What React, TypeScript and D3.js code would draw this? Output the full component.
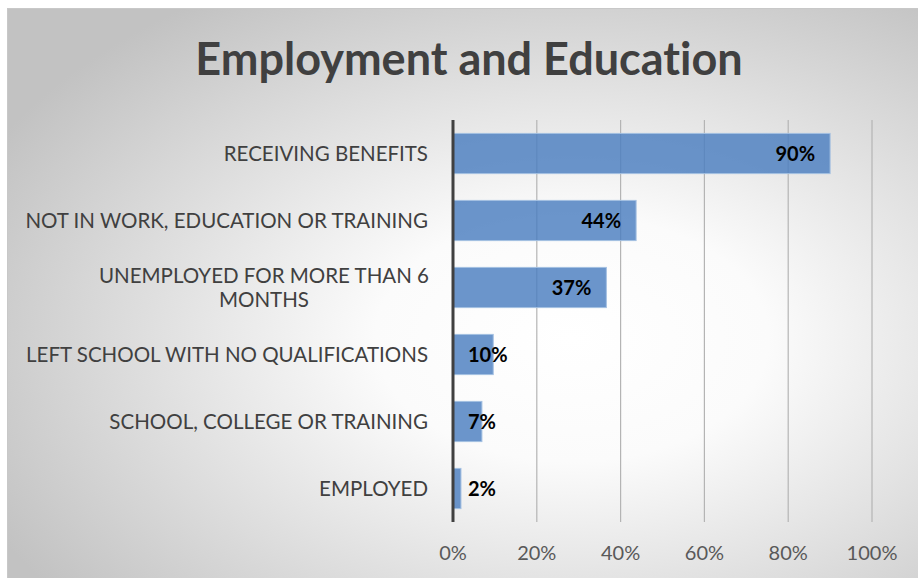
import React from "react";
import * as d3 from "d3";

const categories = [
	"RECEIVING BENEFITS",
	"NOT IN WORK, EDUCATION OR TRAINING",
	"UNEMPLOYED FOR MORE THAN 6\nMONTHS",
	"LEFT SCHOOL WITH NO QUALIFICATIONS",
	"SCHOOL, COLLEGE OR TRAINING",
	"EMPLOYED",
];
const values = [0.9, 0.437, 0.366, 0.096, 0.069, 0.019];
const ticks = [0, 0.2, 0.4, 0.6, 0.8, 1];

const W = 918;
const H = 578;
const FONT = "Lato, 'Open Sans', sans-serif";

export default function App() {
	const x = d3.scaleLinear().domain([0, 1]).range([453, 872]);
	const y = d3
		.scaleBand<string>()
		.domain(categories)
		.range([120, 522])
		.paddingInner(0.4)
		.paddingOuter(0.2);
	const pct = d3.format(".0%");
	const [y0, y1] = y.range();

	return (
		<svg
			width={W}
			height={H}
			style={{
				position: "absolute",
				left: 0,
				top: 0,
				fontVariantLigatures: "none",
			}}
			fontFamily={FONT}
		>
			<defs>
				<radialGradient id="bg" cx="0.62" cy="0.58" r="0.72">
					<stop offset="0" stopColor="#ffffff" />
					<stop offset="0.3" stopColor="#fbfbfb" />
					<stop offset="1" stopColor="#c2c2c2" />
				</radialGradient>
			</defs>
			<rect x={0} y={0} width={W} height={H} fill="#fff" />
			<rect x={7} y={8} width={W - 7} height={H - 8} fill="url(#bg)" />
			<line x1={7} y1={8.5} x2={W} y2={8.5} stroke="#c8c8c8" />
			<line x1={7.5} y1={8} x2={7.5} y2={H} stroke="#c8c8c8" />

			<text
				x={469}
				y={75}
				textAnchor="middle"
				fontSize={45}
				fontWeight="bold"
				fill="#404040"
			>
				Employment and Education
			</text>

			{/* gridlines */}
			{ticks.slice(1).map((t) => (
				<line
					key={t}
					x1={x(t)}
					x2={x(t)}
					y1={y0}
					y2={y1}
					stroke="#b4b4b4"
					strokeWidth={1.2}
				/>
			))}

			{/* bars */}
			{categories.map((c, i) => (
				<rect
					key={c}
					x={x(0)}
					y={y(c)}
					width={x(values[i]) - x(0)}
					height={y.bandwidth()}
					fill="#4a7ebf"
					fillOpacity={0.82}
					stroke="#a4c0e2"
					strokeWidth={1}
				/>
			))}

			{/* y axis line */}
			<line x1={x(0)} x2={x(0)} y1={y0} y2={y1} stroke="#404040" strokeWidth={3} />

			{/* data labels */}
			{categories.map((c, i) => {
				const end = x(values[i]);
				const fits = end - x(0) > 80;
				return (
					<text
						key={c}
						x={fits ? end - 15 : x(0) + 15}
						y={(y(c) ?? 0) + y.bandwidth() / 2}
						dy="0.35em"
						textAnchor={fits ? "end" : "start"}
						fontSize={20}
						fontWeight="bold"
						fill="#000"
					>
						{pct(values[i])}
					</text>
				);
			})}

			{/* category labels */}
			{categories.map((c) => {
				const lines = c.split("\n");
				const cy = (y(c) ?? 0) + y.bandwidth() / 2;
				const lh = 24;
				if (lines.length === 1) {
					return (
						<text
							key={c}
							x={428}
							y={cy}
							dy="0.35em"
							textAnchor="end"
							fontSize={20.5}
							fill="#404040"
						>
							{c}
						</text>
					);
				}
				return (
					<text key={c} fontSize={20.5} fill="#404040" textAnchor="middle">
						{lines.map((l, k) => (
							<tspan
								key={k}
								x={264}
								y={cy - ((lines.length - 1) * lh) / 2 + k * lh}
								dy="0.35em"
							>
								{l}
							</tspan>
						))}
					</text>
				);
			})}

			{/* x tick labels */}
			{ticks.map((t) => (
				<text
					key={t}
					x={x(t)}
					y={553}
					dy="0.35em"
					textAnchor="middle"
					fontSize={20}
					fill="#595959"
				>
					{pct(t)}
				</text>
			))}
		</svg>
	);
}
